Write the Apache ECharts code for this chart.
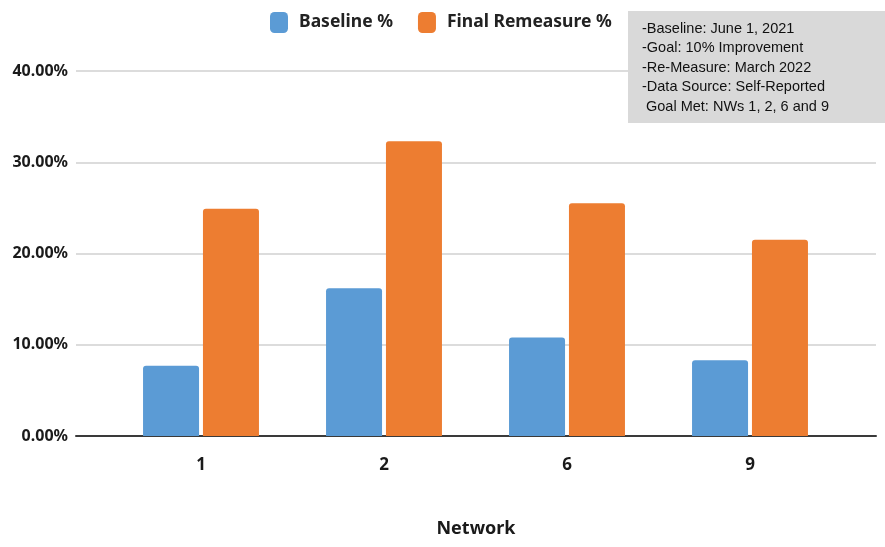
<!DOCTYPE html>
<html>
<head>
<meta charset="utf-8">
<script src="https://cdn.jsdelivr.net/npm/echarts@6/dist/echarts.min.js"></script>
<style>
  html, body { margin: 0; padding: 0; background: #ffffff; }
  #chart { width: 885px; height: 547px; }
</style>
</head>
<body>
<div id="chart"></div>
<script>
// Networks measured
const networks = ['1', '2', '6', '9'];
// Percent of members meeting the measure, per network
const baselinePct = [7.7, 16.2, 10.8, 8.3];
const finalRemeasurePct = [24.9, 32.3, 25.5, 21.5];
// Value axis settings (percent)
const yMin = 0;
const yMax = 40;
const yStep = 10;
// Notes shown in the grey box
const notes = [
  '-Baseline: June 1, 2021',
  '-Goal: 10% Improvement',
  '-Re-Measure: March 2022',
  '-Data Source: Self-Reported',
  ' Goal Met: NWs 1, 2, 6 and 9'
];

const BLUE = '#5b9bd5';
const ORANGE = '#ed7d31';
const labelFont = '"Noto Sans", "Open Sans", sans-serif';

const chart = echarts.init(document.getElementById('chart'), null, { renderer: 'canvas' });

chart.setOption({
  backgroundColor: '#ffffff',
  animation: false,
  legend: {
    left: 270,
    top: 12,
    padding: 0,
    itemWidth: 18,
    itemHeight: 21,
    itemGap: 25,
    icon: 'roundRect',
    textStyle: { fontFamily: labelFont, fontWeight: 'bold', fontSize: 17.5, color: '#222', padding: [0, 0, 0, 6] },
    data: ['Baseline %', 'Final Remeasure %']
  },
  grid: [
    // outer frame: gridlines, y labels and baseline span the full width
    { left: 76, right: 9, top: 71, bottom: 111, outerBoundsMode: 'none', containLabel: false },
    // inner frame: category bands holding the bars
    { left: 109.5, right: 43.5, top: 71, bottom: 111, outerBoundsMode: 'none', containLabel: false }
  ],
  xAxis: [
    {
      type: 'category', gridIndex: 0, data: networks,
      axisLine: { show: true, lineStyle: { color: '#3a3a3a', width: 2 } },
      axisTick: { show: false },
      axisLabel: { show: false },
      name: 'Network', nameLocation: 'middle', nameGap: 84,
      nameTextStyle: { fontFamily: labelFont, fontWeight: 'bold', fontSize: 18, color: '#1a1a1a' }
    },
    {
      type: 'category', gridIndex: 1, data: networks,
      axisLine: { show: false },
      axisTick: { show: false },
      axisLabel: { fontFamily: labelFont, fontWeight: 'bold', fontSize: 17, color: '#1a1a1a', margin: 21 }
    }
  ],
  yAxis: [
    {
      type: 'value', gridIndex: 0, min: yMin, max: yMax, interval: yStep,
      axisLine: { show: false }, axisTick: { show: false },
      splitLine: { lineStyle: { color: '#d0d0d0', width: 1.5 } },
      axisLabel: {
        fontFamily: labelFont, fontWeight: 'bold', fontSize: 16, color: '#1a1a1a', margin: 8,
        formatter: v => v.toFixed(2) + '%'
      }
    },
    {
      type: 'value', gridIndex: 1, min: yMin, max: yMax, interval: yStep,
      show: false, splitLine: { show: false }
    }
  ],
  series: [
    {
      name: 'Baseline %', type: 'bar', xAxisIndex: 1, yAxisIndex: 1,
      data: baselinePct, barWidth: 56, barGap: '7%',
      itemStyle: { color: BLUE, borderRadius: [3, 3, 0, 0] }
    },
    {
      name: 'Final Remeasure %', type: 'bar', xAxisIndex: 1, yAxisIndex: 1,
      data: finalRemeasurePct, barWidth: 56, barGap: '7%',
      itemStyle: { color: ORANGE, borderRadius: [3, 3, 0, 0] }
    }
  ],
  graphic: [
    {
      type: 'group', right: 0, top: 11, z: 100,
      children: [
        { type: 'rect', z: 100, shape: { x: 0, y: 0, width: 257, height: 112 }, style: { fill: '#d9d9d9' } },
        {
          type: 'text', z: 101, left: 14, top: 8,
          style: {
            text: notes.join('\n'),
            font: '14.5px "Liberation Sans", Arial, sans-serif',
            lineHeight: 19.5,
            fill: '#111'
          }
        }
      ]
    }
  ]
});
</script>
</body>
</html>
